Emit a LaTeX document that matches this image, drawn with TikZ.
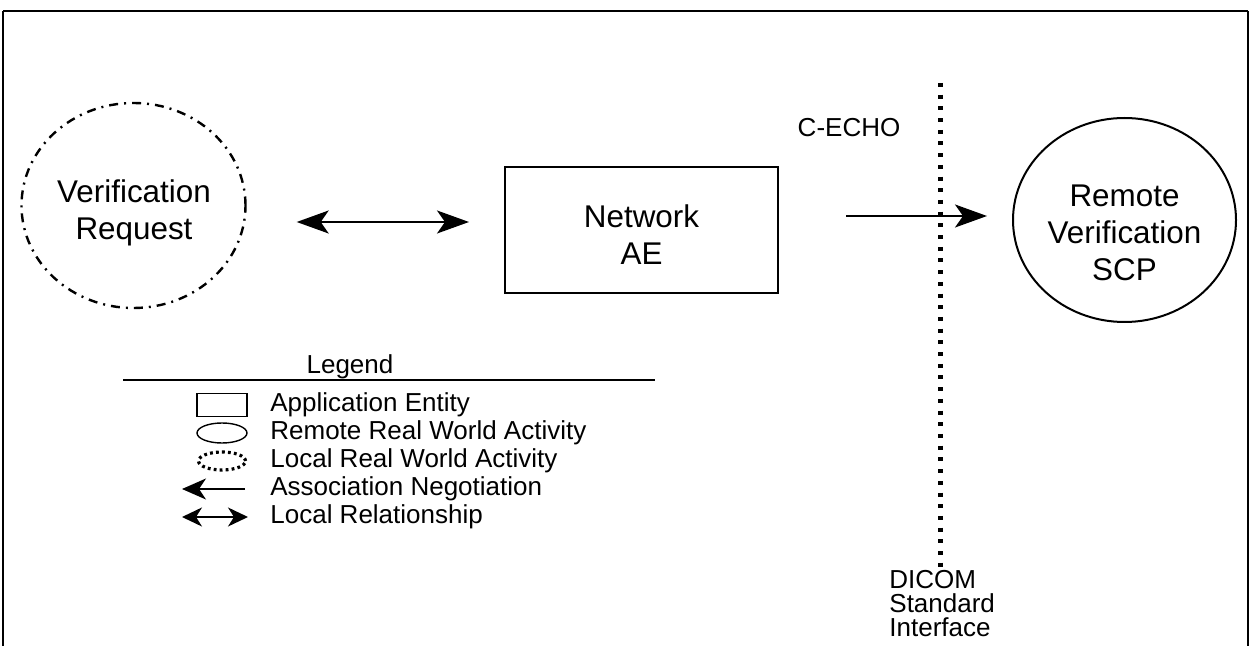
\documentclass[tikz,border=0pt]{standalone}
\usepackage{fontspec}
\setmainfont{Liberation Sans}
\usetikzlibrary{arrows.meta,shapes.geometric}

\tikzset{
	bigtxt/.style={font=\fontsize{15.7}{18.5}\selectfont, align=center, inner sep=0pt},
	smalltxt/.style={font=\fontsize{13}{12}\selectfont, inner sep=0pt},
	remoteact/.style={draw, line width=1pt, ellipse, inner sep=0pt},
	localact/.style={draw, line width=1.2pt, ellipse, inner sep=0pt, dash pattern=on 4.5pt off 3pt on 1pt off 3pt},
	appent/.style={draw, line width=1pt, rectangle, inner sep=0pt},
	headtip/.tip={Stealth[length=16pt,width=11.5pt,inset=4pt]},
	assoc/.style={line width=1pt, -headtip},
	localrel/.style={line width=1pt, headtip-headtip}
}

\begin{document}
\begin{tikzpicture}[x=0.5pt,y=-0.5pt]
	\useasboundingbox (0,0) rectangle (1252,646);
	
	% frame, open at the bottom
	\draw[line width=0.8pt] (3,646) -- (3,11);
	\draw[line width=0.8pt] (1248,11) -- (1248,646);
	\draw[line width=1.4pt] (3,11) -- (1248,11);
	
	\node[localact, minimum width=112pt, minimum height=102.5pt] (req) at (133.5,205.5) {};
	\node[bigtxt] (reqtxt) at (134,213) {Verification\\Request};
	
	\node[appent, minimum width=136.5pt, minimum height=63pt] (nae) at (641.5,230) {};
	\node[bigtxt] (naetxt) at (641.5,235) {Network\\AE};
	
	\node[remoteact, minimum width=111.5pt, minimum height=102pt] (scp) at (1124.5,220) {};
	\node[bigtxt] (scptxt) at (1124.5,233) {Remote\\Verification\\SCP};
	
	\coordinate (lr) at (0,222);
	\coordinate (ec) at (0,216);
	\draw[localrel, shorten <=25pt, shorten >=17.5pt] (req.east |- lr) -- (nae.west |- lr);
	\draw[assoc, shorten <=33.5pt, shorten >=12.5pt] (nae.east |- ec) -- (scp.west |- ec);
	\node[smalltxt] (echo) at (849,128) {C-ECHO};
	
	% DICOM interface
	\coordinate (ifup) at (940,83);
	\coordinate (ifdn) at (940,570);
	\draw[line width=2.5pt, dash pattern=on 2pt off 3.85pt] (ifup) -- (ifdn);
	\node[smalltxt, anchor=north west, align=left] (dicom) at (889,570) {DICOM\\Standard\\Interface};
	
	% legend
	\node[smalltxt] (leg) at (350,367) {Legend};
	\draw[line width=0.8pt] (123,380) -- (655,380);
	
	\node[appent, line width=0.7pt, minimum width=25pt, minimum height=11.5pt] (ikae) at (222,405) {};
	\node[draw, ellipse, line width=0.7pt, minimum width=25pt, minimum height=10pt, inner sep=0pt] (ikrem) at (222,433) {};
	\node[draw, ellipse, line width=1.6pt, dash pattern=on 1.4pt off 1.6pt, minimum width=23.5pt, minimum height=9pt, inner sep=0pt] (ikloc) at (222,461) {};
	\coordinate (ikasA) at (245,489);
	\coordinate (ikasB) at (182,489);
	\draw[assoc, line width=0.9pt, -{Stealth[length=12pt,width=10.5pt,inset=3.5pt]}] (ikasA) -- (ikasB);
	\coordinate (ikrlA) at (182,517);
	\coordinate (ikrlB) at (248,517);
	\draw[line width=0.9pt, {Stealth[length=10pt,width=9.5pt,inset=3pt]}-{Stealth[length=10pt,width=9.5pt,inset=3pt]}] (ikrlA) -- (ikrlB);
	
	\node[smalltxt, anchor=west] (tae) at (270,405) {Application Entity};
	\node[smalltxt, anchor=west] (trem) at (270,433) {Remote Real World Activity};
	\node[smalltxt, anchor=west] (tloc) at (270,461) {Local Real World Activity};
	\node[smalltxt, anchor=west] (tas) at (270,489) {Association Negotiation};
	\node[smalltxt, anchor=west] (trl) at (270,517) {Local Relationship};
	
\end{tikzpicture}
\end{document}
